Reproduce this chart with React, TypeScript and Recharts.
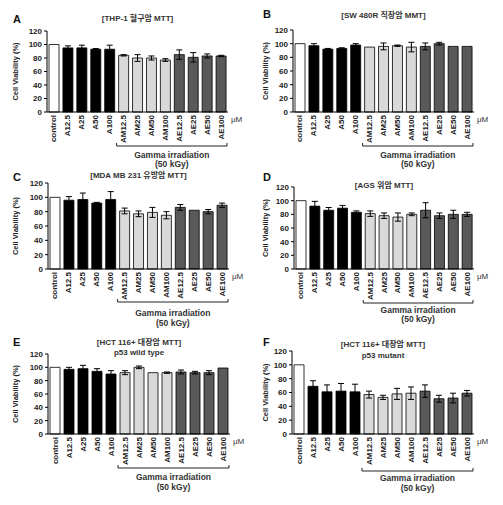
import React from 'react';
import { BarChart, Bar, XAxis, YAxis, Cell, ErrorBar } from 'recharts';

const CATEGORIES = ['control', 'A12.5', 'A25', 'A50', 'A100', 'AM12.5', 'AM25', 'AM50', 'AM100', 'AE12.5', 'AE25', 'AE50', 'AE100'];
const Y_TICKS = [0, 20, 40, 60, 80, 100, 120];

const A_VALUES = [100, 95, 95, 93, 93, 84, 80, 80, 77, 85, 81, 83, 83];
const A_ERRORS = [0, 3, 4, 1, 6, 1, 5, 3, 2, 7, 7, 3, 1];
const B_VALUES = [100, 97, 92, 93, 98, 95, 96, 97, 95, 96, 100, 96, 96];
const B_ERRORS = [0, 3, 1, 1, 2, 0, 5, 1, 7, 5, 2, 0, 0];
const C_VALUES = [100, 96, 97, 92, 97, 81, 77, 79, 75, 86, 82, 80, 89];
const C_ERRORS = [0, 5, 9, 1, 11, 4, 4, 7, 5, 4, 0, 3, 3];
const D_VALUES = [100, 92, 86, 89, 83, 81, 78, 76, 80, 86, 78, 80, 80];
const D_ERRORS = [0, 7, 4, 4, 2, 4, 4, 6, 2, 11, 4, 6, 3];
const E_VALUES = [100, 97, 98, 94, 90, 92, 100, 92, 92, 93, 92, 92, 99];
const E_ERRORS = [0, 3, 5, 4, 5, 3, 2, 0, 1, 3, 2, 3, 0];
const F_VALUES = [100, 69, 61, 62, 61, 57, 53, 58, 59, 62, 51, 52, 59];
const F_ERRORS = [0, 8, 10, 11, 11, 5, 3, 8, 9, 9, 5, 7, 4];

const FONT = '"Liberation Sans", Arial, "Noto Sans CJK KR", sans-serif';
const W = 250;
const H = 170;

function barFill(i: number) {
  if (i === 0) return '#ffffff';
  if (i <= 4) return '#000000';
  if (i <= 8) return '#d9d9d9';
  return '#595959';
}

function RotTick(props: any) {
  const { x, y, payload } = props;
  return (
    <text
      x={x}
      y={y}
      transform={`rotate(-90 ${x} ${y})`}
      textAnchor="end"
      dominantBaseline="central"
      fontSize={8}
      fontWeight="bold"
      fontFamily={FONT}
      fill="#222"
    >
      {payload.value}
    </text>
  );
}

interface PanelProps {
  x0: number;
  y0: number;
  top: number;
  bottom: number;
  left: number;
  right: number;
  letter: string;
  letterY: number;
  titles: string[];
  titleYs: number[];
  bracketY: number;
  gammaY: number;
  kgyY: number;
  values: number[];
  errors: number[];
}

function Panel(p: PanelProps) {
  const data = CATEGORIES.map((name, i) => ({ name, value: p.values[i], err: p.errors[i] }));
  const yAxisW = 24;
  const xAxisH = 36;
  const step = (p.right - p.left) / CATEGORIES.length;
  const bx1 = p.left + 5 * step;
  const bx2 = p.right - 1;
  const midX = (p.left + p.right) / 2;
  const gammaX = (bx1 + bx2) / 2;
  return (
    <div style={{ position: 'absolute', left: p.x0, top: p.y0, width: W, height: H }}>
      <BarChart
        width={W}
        height={H}
        data={data}
        barSize={10}
        margin={{ top: p.top, left: p.left - yAxisW, right: W - p.right, bottom: H - p.bottom - xAxisH }}
      >
        <XAxis
          dataKey="name"
          interval={0}
          height={xAxisH}
          tick={<RotTick />}
          tickLine={false}
          tickSize={0}
          tickMargin={3}
          axisLine={{ stroke: '#000' }}
        />
        <YAxis
          width={yAxisW}
          domain={[0, 120]}
          ticks={Y_TICKS}
          interval={0}
          tickSize={3}
          tickLine={{ stroke: '#000' }}
          axisLine={{ stroke: '#000' }}
          tick={{ fontSize: 8, fontWeight: 'bold', fill: '#222', fontFamily: FONT }}
        />
        <Bar dataKey="value" stroke="#000" strokeWidth={0.8} isAnimationActive={false}>
          {data.map((d, i) => (
            <Cell key={`cell-${i}`} fill={barFill(i)} />
          ))}
          <ErrorBar dataKey="err" width={3} stroke="#000" strokeWidth={1} />
        </Bar>
      </BarChart>
      <svg
        width={W}
        height={H}
        style={{ position: 'absolute', left: 0, top: 0, pointerEvents: 'none' }}
        fontFamily={FONT}
      >
        <text x={13} y={p.letterY} fontSize={11} fontWeight="bold" dominantBaseline="central" fill="#111">
          {p.letter}
        </text>
        {p.titles.map((t, i) => (
          <text
            key={t}
            x={midX}
            y={p.titleYs[i]}
            fontSize={8}
            fontWeight="bold"
            textAnchor="middle"
            dominantBaseline="central"
            fill="#333"
          >
            {t}
          </text>
        ))}
        <text
          x={15}
          y={(p.top + p.bottom) / 2}
          fontSize={7.5}
          fontWeight="bold"
          textAnchor="middle"
          dominantBaseline="central"
          transform={`rotate(-90 15 ${(p.top + p.bottom) / 2})`}
          fill="#222"
        >
          Cell Viability (%)
        </text>
        <text x={p.right + 3} y={p.bottom + 7} fontSize={8} dominantBaseline="central" fill="#333">
          μM
        </text>
        <path
          d={`M${bx1},${p.bracketY - 3} L${bx1},${p.bracketY} L${bx2},${p.bracketY} L${bx2},${p.bracketY - 3}`}
          fill="none"
          stroke="#222"
          strokeWidth={1}
        />
        <text x={gammaX} y={p.gammaY} fontSize={8.5} fontWeight="bold" textAnchor="middle" dominantBaseline="central" fill="#333">
          Gamma irradiation
        </text>
        <text x={gammaX} y={p.kgyY} fontSize={8.5} fontWeight="bold" textAnchor="middle" dominantBaseline="central" fill="#333">
          (50 kGy)
        </text>
      </svg>
    </div>
  );
}

export default function App() {
  return (
    <div style={{ position: 'absolute', left: 0, top: 0, width: 503, height: 505, background: '#fff', overflow: 'hidden' }}>
      <Panel x0={0} y0={0} top={31} bottom={112} left={47} right={228} letter="A" letterY={19}
        titles={['[THP-1 혈구암 MTT]']} titleYs={[18]} bracketY={146} gammaY={155} kgyY={164}
        values={A_VALUES} errors={A_ERRORS} />
      <Panel x0={250} y0={0} top={30} bottom={112} left={43} right={224} letter="B" letterY={14}
        titles={['[SW 480R 직장암 MMT]']} titleYs={[15]} bracketY={146} gammaY={155} kgyY={164}
        values={B_VALUES} errors={B_ERRORS} />
      <Panel x0={0} y0={170} top={13} bottom={99} left={48} right={229} letter="C" letterY={7}
        titles={['[MDA  MB 231 유방암 MTT]']} titleYs={[5]} bracketY={132} gammaY={143} kgyY={153}
        values={C_VALUES} errors={C_ERRORS} />
      <Panel x0={250} y0={170} top={17} bottom={99} left={44} right={224} letter="D" letterY={7}
        titles={['[AGS 위암 MTT]']} titleYs={[15]} bracketY={133} gammaY={140} kgyY={149}
        values={D_VALUES} errors={D_ERRORS} />
      <Panel x0={0} y0={335} top={19} bottom={99} left={48} right={230} letter="E" letterY={7}
        titles={['[HCT  116+ 대장암 MTT]', 'p53 wild type']} titleYs={[7, 17]} bracketY={133} gammaY={142} kgyY={152}
        values={E_VALUES} errors={E_ERRORS} />
      <Panel x0={250} y0={335} top={16} bottom={99} left={42} right={224} letter="F" letterY={7}
        titles={['[HCT  116+ 대장암 MTT]', 'p53  mutant']} titleYs={[9, 20]} bracketY={136} gammaY={143} kgyY={153}
        values={F_VALUES} errors={F_ERRORS} />
    </div>
  );
}
